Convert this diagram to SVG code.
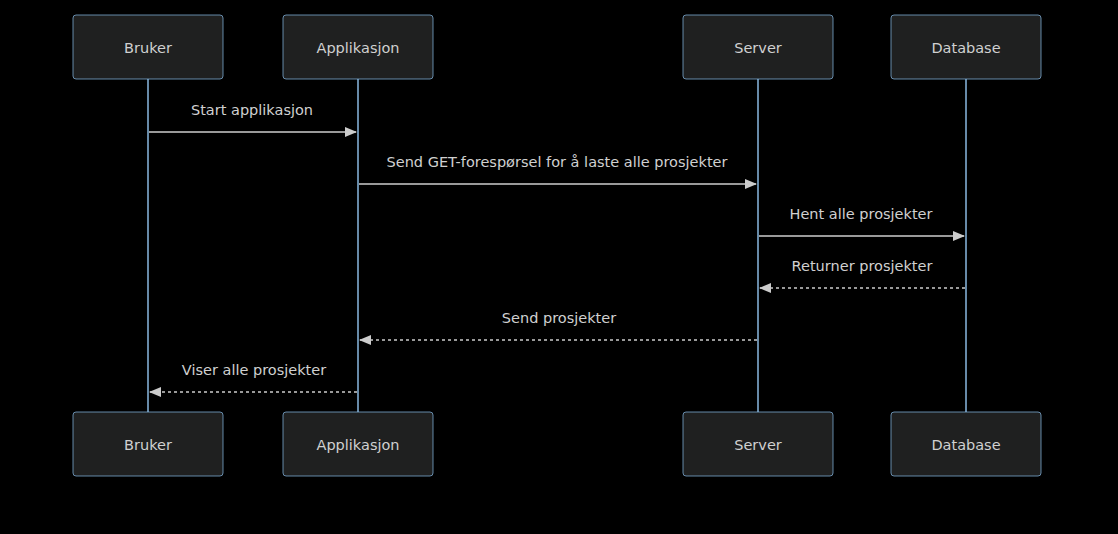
<svg xmlns="http://www.w3.org/2000/svg" width="1118" height="534" viewBox="0 0 1118 534">
<style>
.bg{fill:#000}
.actor{fill:#1f2020;stroke:#81b1db;stroke-opacity:0.75;stroke-width:1}
.atext{fill:#d0d0d0;font-family:"DejaVu Sans",Verdana,sans-serif;font-size:14.5px;text-anchor:middle;dominant-baseline:central}
.life{stroke:#8ab8e0;stroke-width:1.5}
.msg{stroke:#cccccc;stroke-width:1.5;fill:none}
.dash{stroke-dasharray:3,3}
.mtext{fill:#d0d0d0;font-family:"DejaVu Sans",Verdana,sans-serif;font-size:14.5px;text-anchor:middle}
</style>
<defs>
<marker id="arr" viewBox="0 0 12 10" refX="11" refY="5" markerWidth="12" markerHeight="10" markerUnits="userSpaceOnUse" orient="auto">
<path d="M0,0 L12,5 L0,10 z" fill="#cccccc"/>
</marker>
</defs>
<rect class="bg" x="0" y="0" width="1118" height="534"/>
<g id="lifelines">
<line class="life" x1="148" y1="79" x2="148" y2="412"/>
<line class="life" x1="358" y1="79" x2="358" y2="412"/>
<line class="life" x1="758" y1="79" x2="758" y2="412"/>
<line class="life" x1="966" y1="79" x2="966" y2="412"/>
</g>
<g id="actor-bruker-top"><rect class="actor" x="73" y="15" width="150" height="64" rx="3"/><text class="atext" x="148" y="48">Bruker</text></g>
<g id="actor-app-top"><rect class="actor" x="283" y="15" width="150" height="64" rx="3"/><text class="atext" x="358" y="48">Applikasjon</text></g>
<g id="actor-server-top"><rect class="actor" x="683" y="15" width="150" height="64" rx="3"/><text class="atext" x="758" y="48">Server</text></g>
<g id="actor-db-top"><rect class="actor" x="891" y="15" width="150" height="64" rx="3"/><text class="atext" x="966" y="48">Database</text></g>
<g id="actor-bruker-bottom"><rect class="actor" x="73" y="412" width="150" height="64" rx="3"/><text class="atext" x="148" y="445">Bruker</text></g>
<g id="actor-app-bottom"><rect class="actor" x="283" y="412" width="150" height="64" rx="3"/><text class="atext" x="358" y="445">Applikasjon</text></g>
<g id="actor-server-bottom"><rect class="actor" x="683" y="412" width="150" height="64" rx="3"/><text class="atext" x="758" y="445">Server</text></g>
<g id="actor-db-bottom"><rect class="actor" x="891" y="412" width="150" height="64" rx="3"/><text class="atext" x="966" y="445">Database</text></g>
<g id="messages">
<line class="msg" x1="149" y1="132" x2="356" y2="132" marker-end="url(#arr)"/>
<text class="mtext" x="252" y="115">Start applikasjon</text>
<line class="msg" x1="359" y1="184" x2="756" y2="184" marker-end="url(#arr)"/>
<text class="mtext" x="557" y="167">Send GET-forespørsel for å laste alle prosjekter</text>
<line class="msg" x1="759" y1="236" x2="964" y2="236" marker-end="url(#arr)"/>
<text class="mtext" x="861" y="219">Hent alle prosjekter</text>
<line class="msg dash" x1="965" y1="288" x2="760" y2="288" marker-end="url(#arr)"/>
<text class="mtext" x="862" y="271">Returner prosjekter</text>
<line class="msg dash" x1="757" y1="340" x2="360" y2="340" marker-end="url(#arr)"/>
<text class="mtext" x="559" y="323">Send prosjekter</text>
<line class="msg dash" x1="357" y1="392" x2="150" y2="392" marker-end="url(#arr)"/>
<text class="mtext" x="254" y="375">Viser alle prosjekter</text>
</g>
</svg>
